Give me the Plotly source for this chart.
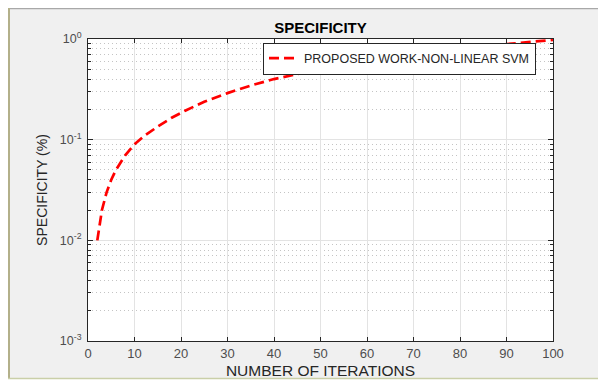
import plotly.graph_objects as go

iterations = [2, 3, 4, 5, 6, 8, 10, 12, 15, 18, 21, 25, 30, 35, 40, 45, 50,
              55, 60, 65, 70, 75, 80, 85, 90, 95, 100]
specificity = [0.010, 0.020, 0.030, 0.040, 0.050, 0.070, 0.090, 0.108, 0.135,
               0.165, 0.195, 0.238, 0.290, 0.345, 0.400, 0.450, 0.500, 0.550,
               0.600, 0.650, 0.700, 0.740, 0.790, 0.840, 0.890, 0.940, 0.980]
series_name = "PROPOSED WORK-NON-LINEAR SVM"
x_ticks = [0, 10, 20, 30, 40, 50, 60, 70, 80, 90, 100]
y_ticks = [1e-3, 1e-2, 1e-1, 1e0]
y_ticklabels = ["10<sup>-3</sup>", "10<sup>-2</sup>", "10<sup>-1</sup>", "10<sup>0</sup>"]
y_minor = [m * d for d in (1e-3, 1e-2, 1e-1) for m in range(2, 10)]

FONT = "Liberation Sans, Arial, sans-serif"
AX = "#262626"

fig = go.Figure()
fig.add_trace(go.Scatter(
    x=iterations, y=specificity, mode="lines", name=series_name,
    line=dict(color="#ff0000", width=2.7, dash="10px,5px"),
    showlegend=True,
))

# the page body adds an 8px offset, so figure pixel = screen pixel - 8
OFF = 8
W, H = 606 - OFF, 383 - OFF
L, R, T, B = 88 - OFF, 553 - OFF, 39 - OFF, 341 - OFF
pw, ph = R - L, B - T

def px(x):
    return (x - OFF - L) / pw

def py(y):
    return (B - (y - OFF)) / ph

shapes = [
    dict(type="rect", xref="paper", yref="paper", x0=px(0), x1=px(620),
         y0=py(400), y1=py(379), fillcolor="white", line=dict(width=0)),
    dict(type="line", xref="paper", yref="paper", x0=px(8), x1=px(620),
         y0=py(8.5), y1=py(8.5), line=dict(color="#a8a8a8", width=1.5)),
    dict(type="line", xref="paper", yref="paper", x0=px(9), x1=px(9),
         y0=py(378.5), y1=py(8), line=dict(color="#b3b08a", width=2)),
    dict(type="line", xref="paper", yref="paper", x0=px(8), x1=px(620),
         y0=py(378.5), y1=py(378.5), line=dict(color="#c9cfa8", width=1.5)),
]

fig.update_layout(
    width=W, height=H,
    margin=dict(l=L, r=W - R, t=T, b=H - B, pad=0, autoexpand=False),
    paper_bgcolor="#f0f0f0", plot_bgcolor="white",
    font=dict(family=FONT, size=11, color=AX),
    title=dict(text="<b>SPECIFICITY</b>", x=(320.5 - OFF) / W, xanchor="center",
               y=1 - (27.5 - OFF) / H, yanchor="middle", yref="container",
               font=dict(family=FONT, size=15, color="black"), automargin=False),
    showlegend=True,
    legend=dict(x=px(263), y=py(58.5), xanchor="left", yanchor="middle",
                bgcolor="white", bordercolor=AX, borderwidth=1,
                font=dict(family=FONT, size=12.5, color=AX),
                tracegroupgap=0, itemwidth=30),
    shapes=shapes,
)

fig.update_xaxes(
    range=[0, 100], tickvals=x_ticks, ticks="inside", ticklen=4,
    tickcolor=AX, showline=True, linecolor=AX, linewidth=1, mirror="ticks",
    showgrid=True, gridcolor="#e3e3e3", gridwidth=1, zeroline=False,
    automargin=False,
    tickfont=dict(family=FONT, size=13, color="#4d4d4d"),
    title=dict(text="NUMBER OF ITERATIONS", standoff=5,
               font=dict(family=FONT, size=15.5, color=AX)),
)
fig.update_yaxes(
    type="log", range=[-3, 0], tickvals=y_ticks, ticktext=y_ticklabels,
    ticks="inside", ticklen=5, tickcolor=AX, showline=True, linecolor=AX,
    linewidth=1, mirror="ticks", showgrid=True, gridcolor="#e3e3e3",
    gridwidth=1, zeroline=False, automargin=False, ticklabelstandoff=3,
    tickfont=dict(family=FONT, size=12.5, color="#4d4d4d"),
    minor=dict(tickvals=y_minor, ticks="inside", ticklen=3, tickcolor=AX,
               showgrid=True, gridcolor="#c4c4c4", griddash="1px,3px", gridwidth=1),
    title=dict(text="SPECIFICITY (%)", standoff=8,
               font=dict(family=FONT, size=14, color=AX)),
)

fig.write_html("out.html")
